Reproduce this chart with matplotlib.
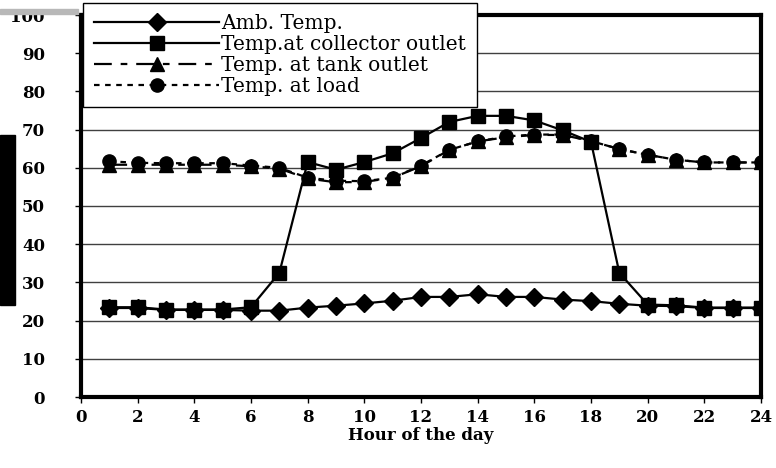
import matplotlib
matplotlib.use("Agg")
import matplotlib.pyplot as plt
from matplotlib.patches import Rectangle

# Hourly temperatures (deg C)
hours = list(range(1, 25))
amb = [23.3, 23.3, 22.8, 22.8, 22.8, 22.6, 22.6, 23.4, 23.9, 24.5, 25.2, 26.2,
       26.2, 26.9, 26.2, 26.2, 25.5, 25.1, 24.4, 23.9, 23.8, 23.3, 23.3, 23.3]
collector = [23.5, 23.5, 22.9, 22.9, 22.9, 23.5, 32.5, 61.5, 59.5, 61.5, 63.8, 67.8,
             72.0, 73.6, 73.6, 72.4, 69.8, 66.8, 32.5, 24.2, 24.0, 23.4, 23.4, 23.4]
tank = [60.8, 60.8, 60.8, 60.8, 60.8, 60.4, 59.8, 57.2, 56.2, 56.3, 57.4, 60.4,
        64.7, 66.9, 68.0, 68.6, 68.6, 67.0, 64.9, 63.4, 62.1, 61.4, 61.4, 61.4]
load = [61.7, 61.3, 61.2, 61.2, 61.2, 60.6, 60.0, 57.4, 56.6, 56.5, 57.4, 60.6,
        64.7, 66.9, 68.2, 68.7, 68.7, 67.0, 64.9, 63.4, 62.1, 61.4, 61.4, 61.4]
labels = ["Amb. Temp.", "Temp.at collector outlet", "Temp. at tank outlet", "Temp. at load"]
yticks = [0, 10, 20, 30, 40, 50, 60, 70, 80, 90, 100]
xticks = list(range(0, 25, 2))

plt.rcParams['font.family'] = ['DejaVu Serif', 'Liberation Serif']

fig = plt.figure(figsize=(7.76, 4.68), dpi=100)
ax = fig.add_axes([81 / 776, 1 - 397 / 468, 680 / 776, 382 / 468])

ax.plot(hours, amb, color='black', lw=1.6, marker='D', ms=9.5, label=labels[0], zorder=3)
ax.plot(hours, collector, color='black', lw=1.6, marker='s', ms=9.5, label=labels[1], zorder=4)
ax.plot(hours, tank, color='black', lw=1.6, marker='^', ms=9.5, dashes=(8, 4, 3, 4),
        label=labels[2], zorder=3)
ax.plot(hours, load, color='black', lw=1.6, marker='o', ms=9.5, dashes=(2.5, 2.5),
        label=labels[3], zorder=3)

ax.set_xlim(0, 24)
ax.set_ylim(0, 100)
ax.set_xticks(xticks)
ax.set_yticks(yticks)
ax.grid(axis='y', color='#404040', lw=1.0)
ax.set_axisbelow(True)
for s in ax.spines.values():
    s.set_linewidth(3)
ax.tick_params(direction='out', length=4, width=1, labelsize=12)
ax.tick_params(axis='y', pad=22)
ax.tick_params(axis='x', pad=5)
for t in ax.get_xticklabels() + ax.get_yticklabels():
    t.set_fontweight('bold')
ax.set_xlabel("Hour of the day", fontsize=12, fontweight='bold', labelpad=0)

leg = ax.legend(loc='upper left', bbox_to_anchor=(83 / 776, 1 - 3 / 468),
                bbox_transform=fig.transFigure, prop={'size': 14.5},
                handlelength=6.2, handletextpad=0.1, labelspacing=0.1, borderpad=0.55,
                borderaxespad=0, fancybox=False, framealpha=1, edgecolor='black')
leg.get_frame().set_linewidth(1.0)
leg.set_zorder(10)

# artifacts at the left edge of the reference image
fig.patches.append(Rectangle((0, 1 - 305 / 468), 15 / 776, 170 / 468,
                             transform=fig.transFigure, color='black', zorder=0))
fig.patches.append(Rectangle((0, 1 - 14 / 468), 78 / 776, 5 / 468,
                             transform=fig.transFigure, color='#b8b8b8', zorder=0))

fig.savefig("out.png", dpi=100)
